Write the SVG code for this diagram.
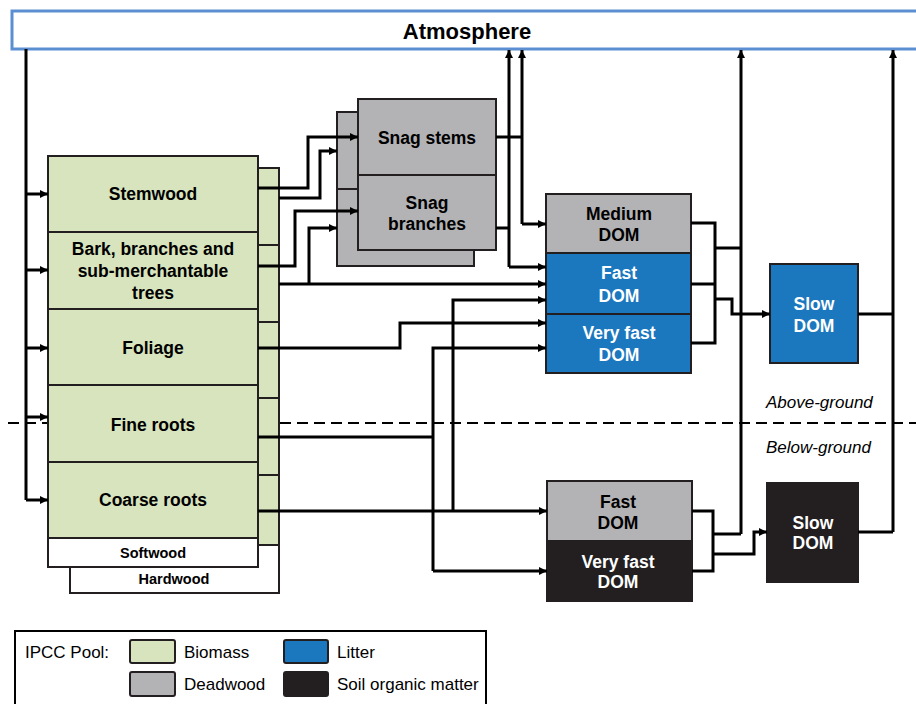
<svg xmlns="http://www.w3.org/2000/svg" width="916" height="704" viewBox="0 0 916 704">
<defs>
<marker id="ah" markerUnits="userSpaceOnUse" markerWidth="9" markerHeight="8" refX="8" refY="4" orient="auto">
<path d="M0,0 L8,4 L0,8 z" fill="#000"/>
</marker>
<style>
text{font-family:"Liberation Sans",Arial,Helvetica,sans-serif;}
.b{font-weight:bold;font-size:17.5px;text-anchor:middle;fill:#000;}
.w{fill:#fff;}
.s{font-weight:bold;font-size:14.5px;text-anchor:middle;}
.lg{font-size:17px;fill:#000;}
.it{font-style:italic;font-size:17px;fill:#000;}
.bx{stroke:#231f20;stroke-width:2;}
.green{fill:#d7e4bd;}
.gray{fill:#b3b3b5;}
.blue{fill:#1b77be;}
.dark{fill:#231f20;}
.wh{fill:#fff;}
.c{fill:none;stroke:#000;stroke-width:3;}
.a{marker-end:url(#ah);}
</style>
</defs>
<rect width="916" height="704" fill="#fff"/>

<g id="atmosphere">
<rect x="12" y="11" width="920" height="38" fill="#fff" stroke="#5b8fd1" stroke-width="3"/>
<text x="467" y="39" style="font-weight:bold;font-size:22px;text-anchor:middle;">Atmosphere</text>
</g>

<line id="ground-line" x1="8" y1="423" x2="916" y2="423" stroke="#000" stroke-width="2" stroke-dasharray="11 6"/>
<text id="above-ground" class="it" x="766" y="408">Above-ground</text>
<text id="below-ground" class="it" x="766" y="453">Below-ground</text>

<g id="hardwood-biomass">
<rect class="bx wh" x="70" y="168" width="209" height="425"/>
<rect class="bx green" x="70" y="168" width="209" height="377"/>
<path class="bx" d="M70,245 H279 M70,322 H279 M70,398 H279 M70,475 H279" fill="none"/>
<text class="s" x="174" y="584">Hardwood</text>
</g>

<g id="softwood-biomass">
<rect class="bx wh" x="48" y="156" width="210" height="411"/>
<rect class="bx green" x="48" y="156" width="210" height="382"/>
<path class="bx" d="M48,232 H258 M48,309 H258 M48,385 H258 M48,462 H258" fill="none"/>
<text class="b" x="153" y="200">Stemwood</text>
<text class="b" x="153" y="255">Bark, branches and</text>
<text class="b" x="153" y="277">sub-merchantable</text>
<text class="b" x="153" y="299">trees</text>
<text class="b" x="153" y="354">Foliage</text>
<text class="b" x="153" y="431">Fine roots</text>
<text class="b" x="153" y="506">Coarse roots</text>
<text class="s" x="153" y="558">Softwood</text>
</g>

<g id="snag-hardwood">
<rect class="bx gray" x="337" y="112" width="137" height="154"/>
<line class="bx" x1="337" y1="189" x2="474" y2="189"/>
</g>

<g id="snag-softwood">
<rect class="bx gray" x="358" y="99" width="138" height="151"/>
<line class="bx" x1="358" y1="175" x2="496" y2="175"/>
<text class="b" x="427" y="144">Snag stems</text>
<text class="b" x="427" y="209">Snag</text>
<text class="b" x="427" y="230">branches</text>
</g>

<g id="medium-dom">
<rect class="bx gray" x="546" y="194" width="145" height="59"/>
<text class="b" x="619" y="220">Medium</text>
<text class="b" x="619" y="241">DOM</text>
</g>
<g id="ag-fast-dom">
<rect class="bx blue" x="546" y="253" width="145" height="61"/>
<text class="b w" x="619" y="279">Fast</text>
<text class="b w" x="619" y="302">DOM</text>
</g>
<g id="ag-very-fast-dom">
<rect class="bx blue" x="546" y="314" width="145" height="59"/>
<text class="b w" x="619" y="339">Very fast</text>
<text class="b w" x="619" y="361">DOM</text>
</g>
<g id="ag-slow-dom">
<rect class="bx blue" x="770" y="264" width="88" height="99"/>
<text class="b w" x="814" y="310">Slow</text>
<text class="b w" x="814" y="332">DOM</text>
</g>
<g id="bg-fast-dom">
<rect class="bx gray" x="547" y="481" width="145" height="60"/>
<text class="b" x="618" y="508">Fast</text>
<text class="b" x="618" y="529">DOM</text>
</g>
<g id="bg-very-fast-dom">
<rect class="bx dark" x="547" y="541" width="145" height="60"/>
<text class="b w" x="618" y="568">Very fast</text>
<text class="b w" x="618" y="588">DOM</text>
</g>
<g id="bg-slow-dom">
<rect class="bx dark" x="767" y="483" width="91" height="99"/>
<text class="b w" x="813" y="529">Slow</text>
<text class="b w" x="813" y="549">DOM</text>
</g>

<g id="connectors">
<path class="c" d="M26,49 V500"/>
<path class="c a" d="M26,500 H48"/>
<path class="c a" d="M26,194 H48"/>
<path class="c a" d="M26,270 H48"/>
<path class="c a" d="M26,348 H48"/>
<path class="c a" d="M26,417 H48"/>

<path class="c a" d="M258,188 H308 V137 H358"/>
<path class="c a" d="M279,198 H320 V151 H337"/>
<path class="c a" d="M258,266 H295 V211 H358"/>
<path class="c a" d="M279,284 H546"/>
<path class="c a" d="M309,284 V228 H337"/>

<path class="c" d="M496,137 H522"/>
<path class="c a" d="M522,224 V50"/>
<path class="c a" d="M522,224 H546"/>
<path class="c" d="M496,228 H509"/>
<path class="c a" d="M509,267 V50"/>
<path class="c a" d="M509,267 H546"/>

<path class="c a" d="M258,348 H400 V323 H546"/>
<path class="c" d="M258,437 H433"/>
<path class="c a" d="M433,571 V348 H546"/>
<path class="c a" d="M433,571 H547"/>
<path class="c a" d="M258,511 H547"/>
<path class="c a" d="M453,511 V300 H546"/>

<path class="c" d="M691,223 H715 V343 H691"/>
<path class="c" d="M691,284 H715"/>
<path class="c" d="M715,248 H741"/>
<path class="c a" d="M741,534 V50"/>
<path class="c a" d="M715,299 H732 V314 H770"/>
<path class="c" d="M858,314 H893"/>
<path class="c a" d="M893,532 V50"/>
<path class="c" d="M858,532 H893"/>

<path class="c" d="M692,511 H713 V571 H692"/>
<path class="c" d="M713,534 H741"/>
<path class="c a" d="M713,554 H754 V532 H767"/>
</g>

<g id="legend">
<rect x="15" y="631" width="471" height="90" fill="#fff" stroke="#000" stroke-width="2"/>
<text class="lg" x="25" y="658">IPCC Pool:</text>
<rect class="bx green" x="130" y="640" width="45" height="23" rx="2"/>
<text class="lg" x="184" y="658">Biomass</text>
<rect class="bx blue" x="284" y="640" width="44" height="23" rx="2"/>
<text class="lg" x="337" y="658">Litter</text>
<rect class="bx gray" x="130" y="672" width="45" height="24" rx="2"/>
<text class="lg" x="184" y="690">Deadwood</text>
<rect class="bx dark" x="284" y="672" width="44" height="24" rx="2"/>
<text class="lg" x="337" y="690">Soil organic matter</text>
</g>
</svg>
